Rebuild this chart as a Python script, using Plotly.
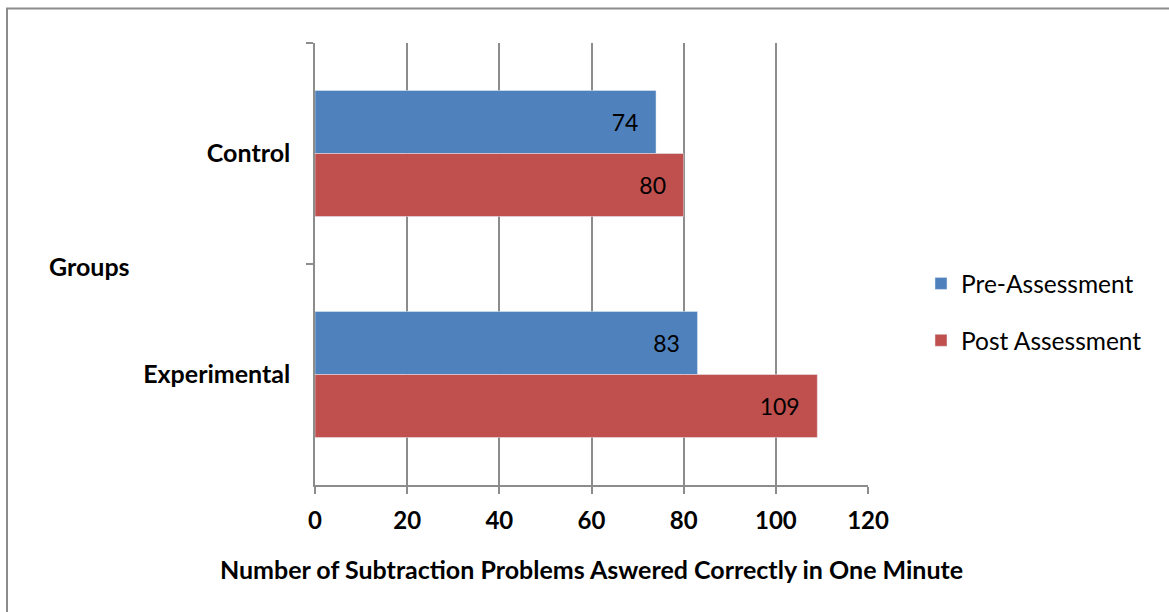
import plotly.graph_objects as go

categories = ["Control", "Experimental"]
pre_values = [74, 83]
post_values = [80, 109]
x_ticks = [0, 20, 40, 60, 80, 100, 120]

FONT = "Lato"
BLUE = "#4F81BD"
RED = "#C0504D"
GRID = "#8C8C8C"

W, H = 1169, 612
L, R, T, B = 315, 868, 43, 485


def px(x):
    return (x - L) / (R - L)


def py(y):
    return (B - y) / (B - T)


fig = go.Figure()
for name, vals, col, grp in [("Pre-Assessment", pre_values, BLUE, "pre"),
                             ("Post Assessment", post_values, RED, "post")]:
    fig.add_trace(go.Bar(
        name=name, y=categories, x=vals, orientation="h",
        marker=dict(color=col), legendgroup=grp,
        texttemplate="%{x}\u00a0\u00a0\u2009", textposition="inside",
        insidetextanchor="end", textfont=dict(family=FONT, size=23, color="black"),
        hoverinfo="skip",
    ))

fig.update_layout(
    width=W, height=H,
    margin=dict(l=L, r=W - R, t=T, b=H - B),
    paper_bgcolor="white", plot_bgcolor="white",
    barmode="group", bargap=0.43, bargroupgap=0,
    font=dict(family=FONT, color="black"),
    legend=dict(
        x=px(921), y=py(312), xanchor="left", yanchor="middle",
        traceorder="grouped", tracegroupgap=22,
        font=dict(family=FONT, size=24.5, color="black"),
        bgcolor="rgba(0,0,0,0)",
    ),
    xaxis=dict(
        range=[0, 120], tickvals=x_ticks, ticktext=[str(t) for t in x_ticks],
        showgrid=True, gridcolor=GRID, gridwidth=1.5,
        showline=True, linecolor=GRID, linewidth=1.5,
        ticks="outside", ticklen=7, tickcolor=GRID, tickwidth=1.5,
        tickfont=dict(family=FONT, size=24, color="black", weight="bold"),
        ticklabelstandoff=6,
        zeroline=False,
        title=dict(text="Number of Subtraction Problems Aswered Correctly in One Minute",
                   font=dict(family=FONT, size=25, color="black", weight="bold"),
                   standoff=29),
    ),
    yaxis=dict(
        type="category", categoryorder="array", categoryarray=categories,
        autorange="reversed",
        tickson="boundaries", ticks="outside", ticklen=7, tickcolor=GRID, tickwidth=1.5,
        showline=True, linecolor=GRID, linewidth=1.5, showgrid=False,
        tickfont=dict(family=FONT, size=25, color="black", weight="bold"),
        ticklabelstandoff=18,
    ),
    annotations=[dict(
        text="Groups", xref="paper", yref="paper", x=px(89), y=py(266),
        xanchor="center", yanchor="middle", showarrow=False,
        font=dict(family=FONT, size=25, color="black", weight="bold"),
    )],
    shapes=[dict(
        type="rect", xref="paper", yref="paper",
        x0=px(7), x1=px(1190), y0=py(8.5), y1=py(640),
        line=dict(color="#8C8C8C", width=2), fillcolor="rgba(0,0,0,0)", layer="below",
    )],
)

fig.write_html("out.html", config={"displayModeBar": False},
               post_script="document.body.style.margin='0';")
